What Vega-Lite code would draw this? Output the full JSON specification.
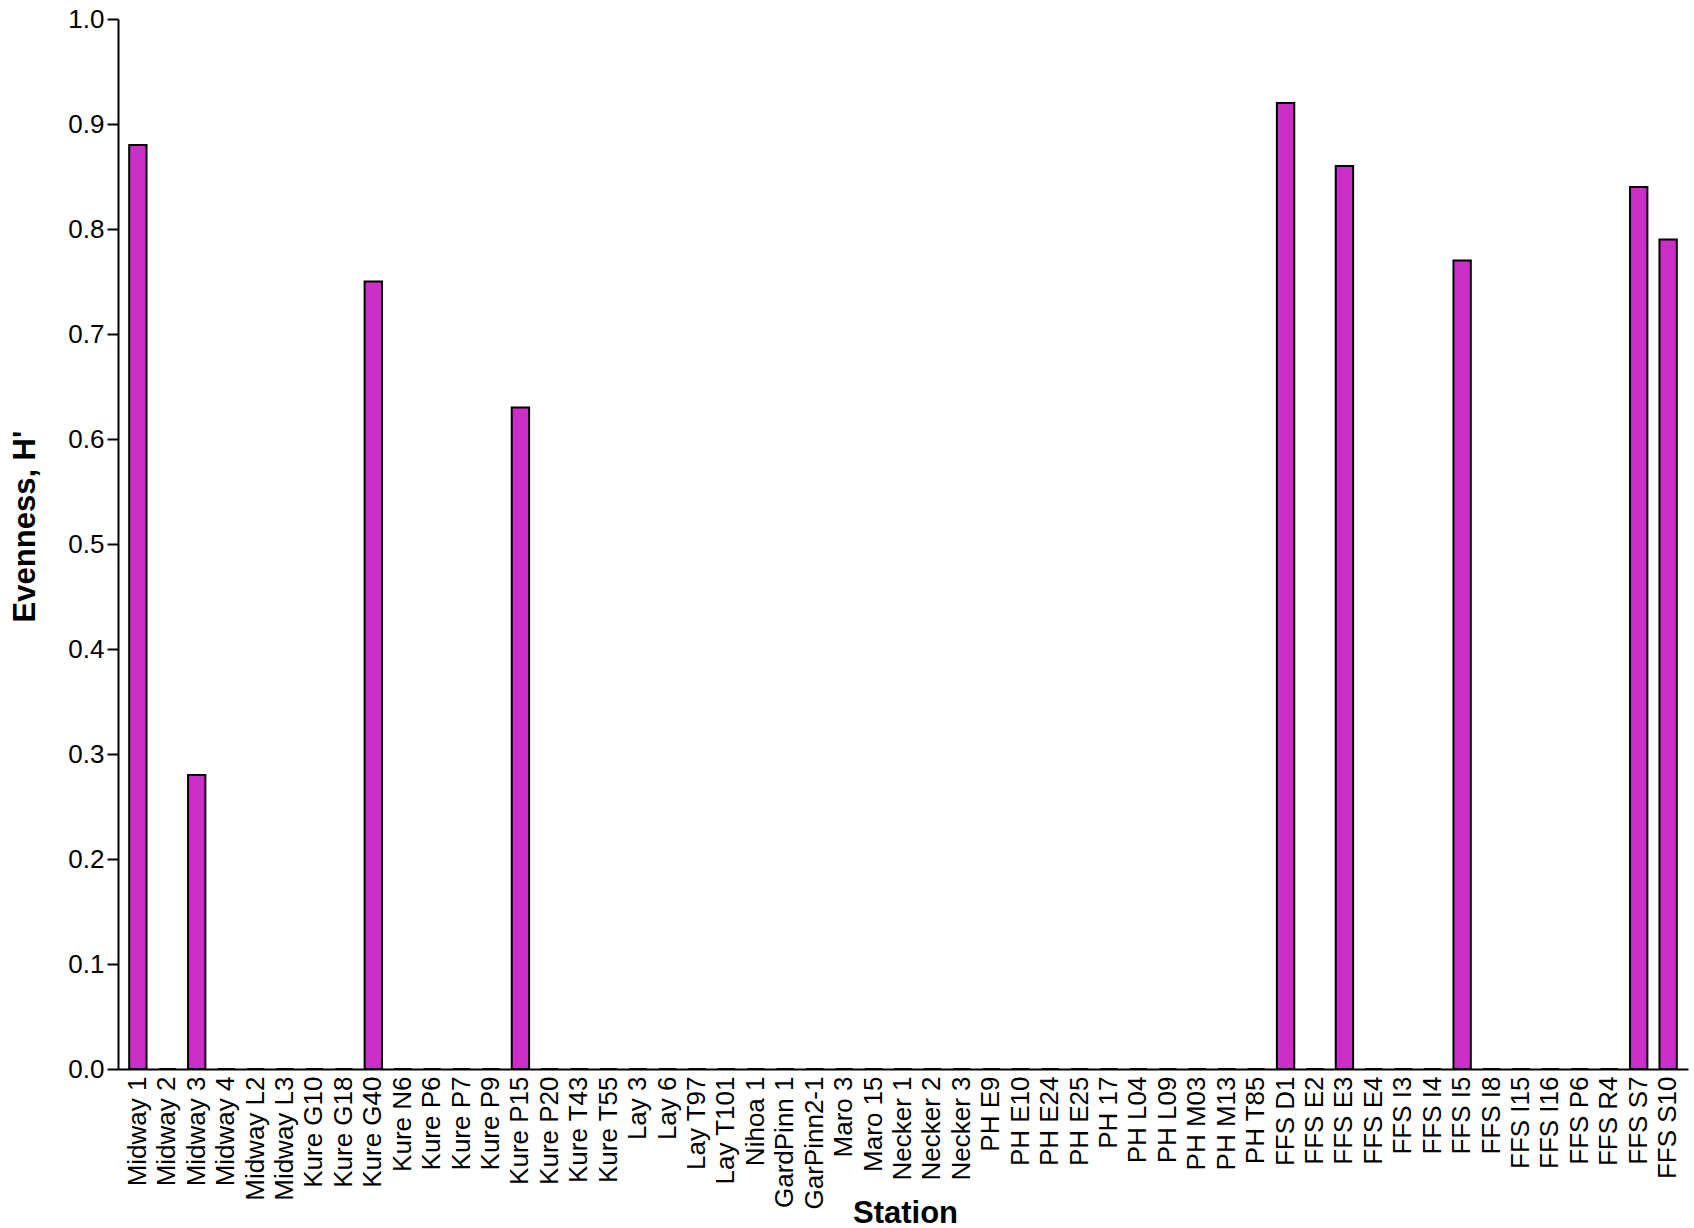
{
  "$schema": "https://vega.github.io/schema/vega-lite/v6.json",
  "width": 1570,
  "height": 1050,
  "autosize": {"type": "none"},
  "padding": {"left": 118, "top": 19, "right": 6, "bottom": 159},
  "background": "white",
  "config": {"view": {"stroke": null}, "font": "Liberation Sans"},
  "data": {
    "values": [
      {"station": "Midway 1", "evenness": 0.88},
      {"station": "Midway 2", "evenness": 0},
      {"station": "Midway 3", "evenness": 0.28},
      {"station": "Midway 4", "evenness": 0},
      {"station": "Midway L2", "evenness": 0},
      {"station": "Midway L3", "evenness": 0},
      {"station": "Kure G10", "evenness": 0},
      {"station": "Kure G18", "evenness": 0},
      {"station": "Kure G40", "evenness": 0.75},
      {"station": "Kure N6", "evenness": 0},
      {"station": "Kure P6", "evenness": 0},
      {"station": "Kure P7", "evenness": 0},
      {"station": "Kure P9", "evenness": 0},
      {"station": "Kure P15", "evenness": 0.63},
      {"station": "Kure P20", "evenness": 0},
      {"station": "Kure T43", "evenness": 0},
      {"station": "Kure T55", "evenness": 0},
      {"station": "Lay 3", "evenness": 0},
      {"station": "Lay 6", "evenness": 0},
      {"station": "Lay T97", "evenness": 0},
      {"station": "Lay T101", "evenness": 0},
      {"station": "Nihoa 1", "evenness": 0},
      {"station": "GardPinn 1", "evenness": 0},
      {"station": "GarPinn2-1", "evenness": 0},
      {"station": "Maro 3", "evenness": 0},
      {"station": "Maro 15", "evenness": 0},
      {"station": "Necker 1", "evenness": 0},
      {"station": "Necker 2", "evenness": 0},
      {"station": "Necker 3", "evenness": 0},
      {"station": "PH E9", "evenness": 0},
      {"station": "PH E10", "evenness": 0},
      {"station": "PH E24", "evenness": 0},
      {"station": "PH E25", "evenness": 0},
      {"station": "PH 17", "evenness": 0},
      {"station": "PH L04", "evenness": 0},
      {"station": "PH L09", "evenness": 0},
      {"station": "PH M03", "evenness": 0},
      {"station": "PH M13", "evenness": 0},
      {"station": "PH T85", "evenness": 0},
      {"station": "FFS D1", "evenness": 0.92},
      {"station": "FFS E2", "evenness": 0},
      {"station": "FFS E3", "evenness": 0.86},
      {"station": "FFS E4", "evenness": 0},
      {"station": "FFS I3", "evenness": 0},
      {"station": "FFS I4", "evenness": 0},
      {"station": "FFS I5", "evenness": 0.77},
      {"station": "FFS I8", "evenness": 0},
      {"station": "FFS I15", "evenness": 0},
      {"station": "FFS I16", "evenness": 0},
      {"station": "FFS P6", "evenness": 0},
      {"station": "FFS R4", "evenness": 0},
      {"station": "FFS S7", "evenness": 0.84},
      {"station": "FFS S10", "evenness": 0.79}
    ]
  },
  "mark": {"type": "bar", "fill": "#cc2ec8", "stroke": "black", "strokeWidth": 2},
  "encoding": {
    "x": {
      "field": "station",
      "type": "nominal",
      "sort": null,
      "scale": {"paddingInner": 0.41, "paddingOuter": 0.38},
      "axis": {
        "title": "Station",
        "labelAngle": -90,
        "labelFontSize": 26,
        "labelColor": "black",
        "labelPadding": 7,
        "ticks": false,
        "domainColor": "black",
        "domainWidth": 2,
        "titleFontSize": 31,
        "titleFontWeight": "bold",
        "titleColor": "black",
        "titleBaseline": "alphabetic",
        "titleX": 787,
        "titleY": 153
      }
    },
    "y": {
      "field": "evenness",
      "type": "quantitative",
      "scale": {"domain": [0, 1]},
      "axis": {
        "title": "Evenness, H'",
        "values": [0, 0.1, 0.2, 0.3, 0.4, 0.5, 0.6, 0.7, 0.8, 0.9, 1.0],
        "format": ".1f",
        "grid": false,
        "tickSize": 11,
        "tickColor": "black",
        "tickWidth": 2,
        "domainColor": "black",
        "domainWidth": 2,
        "labelFontSize": 26,
        "labelColor": "black",
        "labelPadding": 3,
        "titleFontSize": 31,
        "titleFontWeight": "bold",
        "titleColor": "black",
        "titleAngle": -90,
        "titleBaseline": "alphabetic",
        "titleX": -84,
        "titleY": 507
      }
    }
  }
}
